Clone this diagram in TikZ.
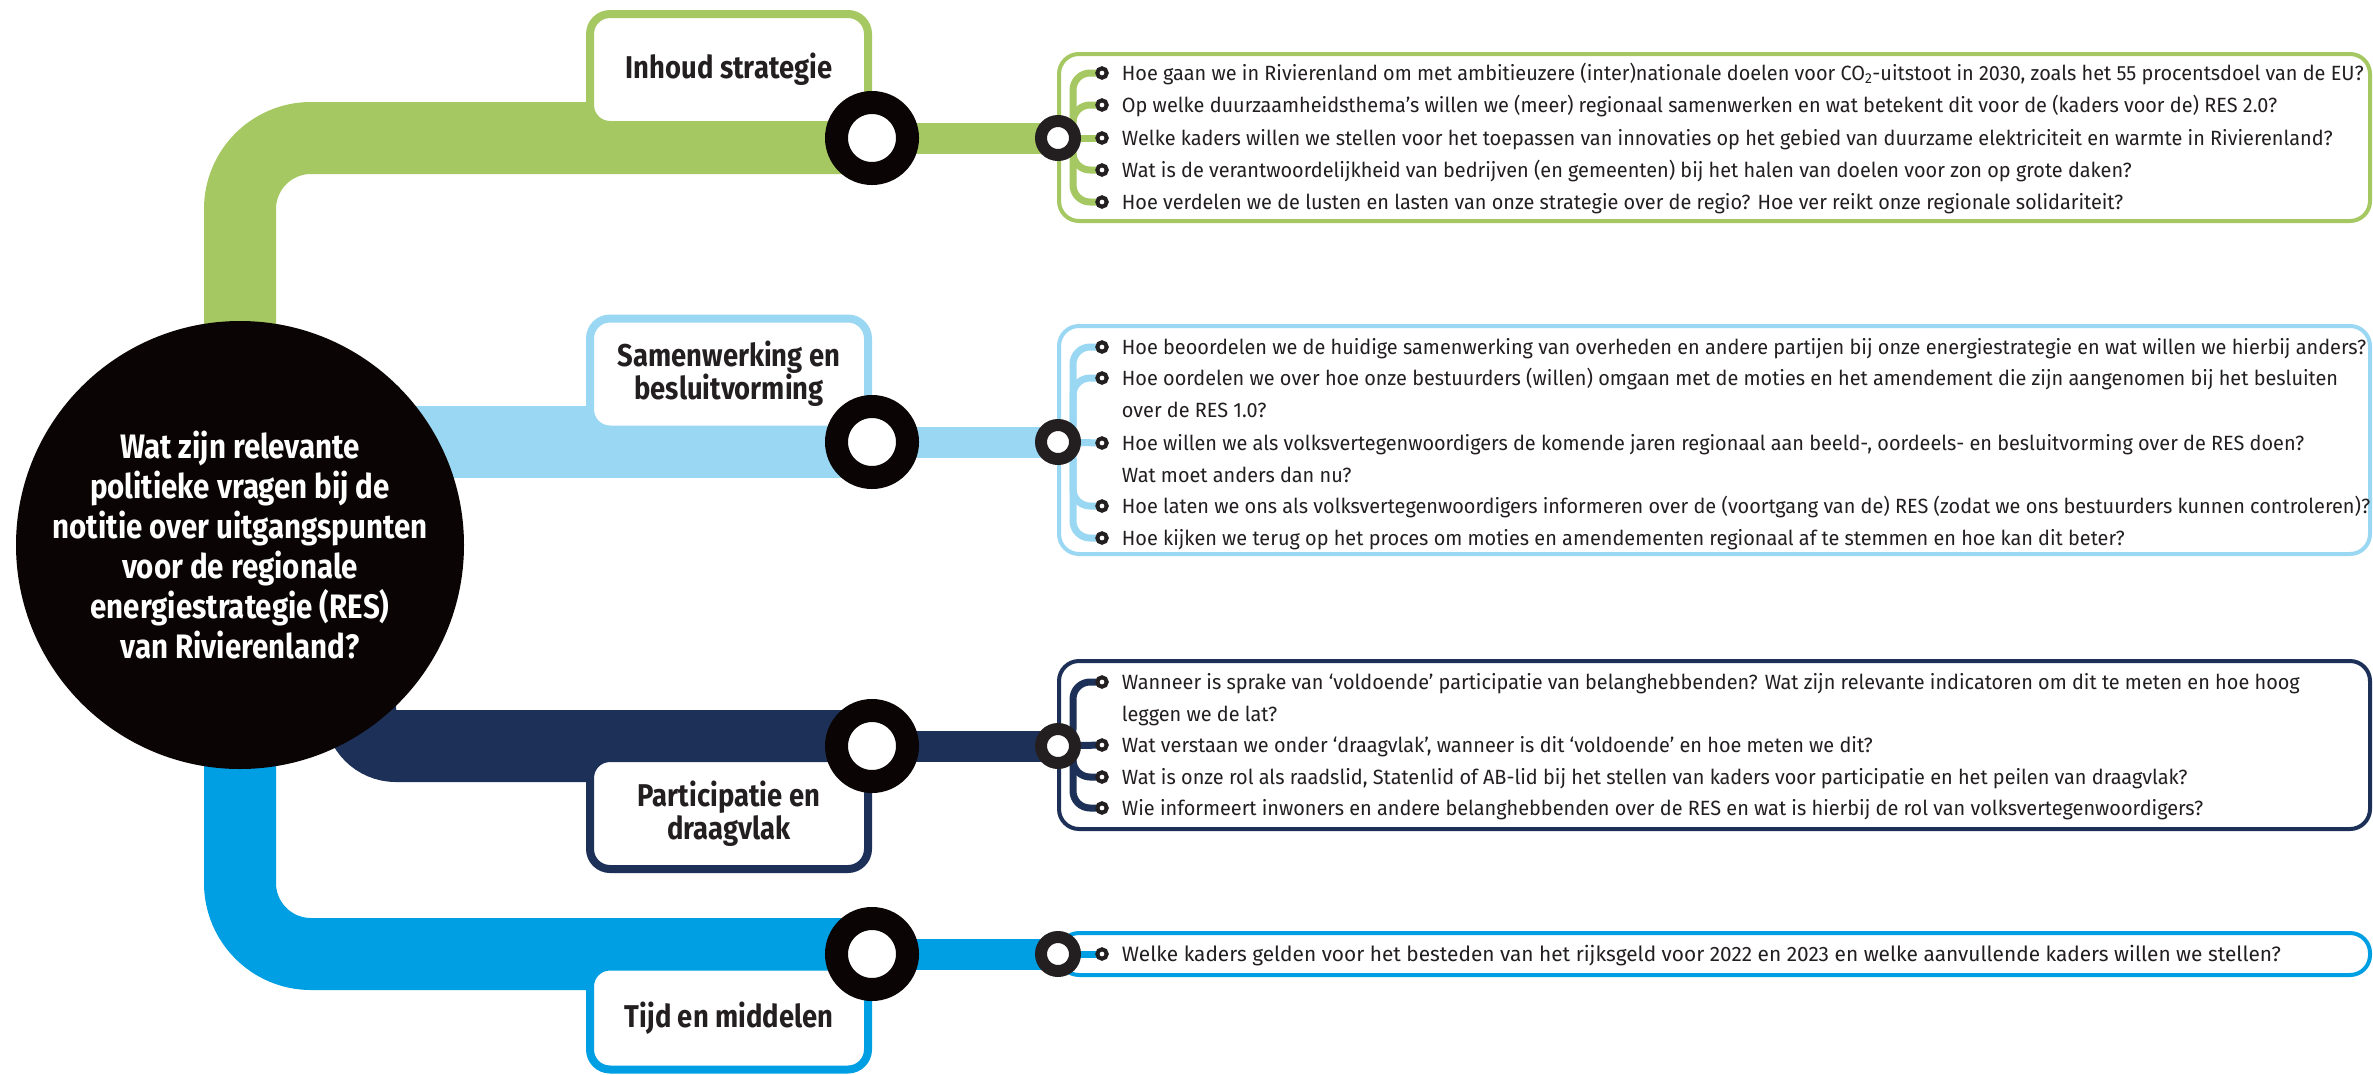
\documentclass[tikz,border=0pt]{standalone}
\usepackage{fontspec}
\setmainfont{Fira Sans}
\newfontfamily\askfont[FakeStretch=0.965]{Fira Sans}
\newfontfamily\headfont[FakeStretch=0.87]{Fira Sans}
\usetikzlibrary{positioning}
\definecolor{resgreen}{HTML}{A5C862}
\definecolor{reslight}{HTML}{9AD7F3}
\definecolor{resnavy}{HTML}{1D3158}
\definecolor{resblue}{HTML}{009FE3}
\definecolor{resink}{HTML}{231F20}
\definecolor{reshub}{HTML}{0A0404}
\pgfdeclarelayer{back}
\pgfdeclarelayer{mid}
\pgfsetlayers{back,mid,main}

\begin{document}
\begin{tikzpicture}[x=1pt, y=-1pt,
    hub/.style={circle, fill=reshub, minimum size=448pt, inner sep=0pt, text=white, align=center, font=\headfont\bfseries\fontsize{33.9}{40}\selectfont},
    tagbox/.style={draw=#1, fill=white, line width=8pt, rounded corners=20pt, minimum width=278pt, minimum height=111pt, align=center, text=resink, font=\headfont\bfseries\fontsize{31.5}{33}\selectfont},
    panel/.style={draw=#1, fill=white, line width=4pt, rounded corners=20pt, minimum width=1311pt},
    bigring/.style={circle, draw=reshub, fill=white, line width=23pt, minimum size=71pt, inner sep=0pt},
    hopring/.style={circle, draw=resink, fill=white, line width=12pt, minimum size=34pt, inner sep=0pt},
    dot/.style={circle, draw=resink, fill=white, line width=4pt, minimum size=9.4pt, inner sep=0pt},
    ask/.style={inner sep=0pt, align=left, text=resink, font=\askfont\fontsize{20.6}{32}\selectfont},
    trunk/.style={line width=72pt, rounded corners=71pt},
    spur/.style={line width=31pt},
    twig/.style={line width=7pt, rounded corners=17pt}]
    \useasboundingbox (0,0) rectangle (2373,1074);

    \begin{pgfonlayer}{mid}
        \node[hub] (hub) at (240,545) {Wat zijn relevante\\politieke vragen bij de\\notitie over uitgangspunten\\voor de regionale\\energiestrategie (RES)\\van Rivierenland?};
        \node[tagbox=resgreen] (tag1) at (729,69.5) {Inhoud strategie};
        \node[tagbox=reslight] (tag2) at (729,374) {Samenwerking en\\besluitvorming};
        \node[tagbox=resnavy] (tag3) at (729,813.5) {Participatie en\\draagvlak};
        \node[tagbox=resblue, minimum height=103pt] (tag4) at (729,1018) {Tijd en middelen};
        \node[panel=resgreen, minimum height=167pt] (pan1) at (1714.5,137.5) {};
        \node[panel=reslight, minimum height=228pt] (pan2) at (1714.5,440) {};
        \node[panel=resnavy, minimum height=168pt] (pan3) at (1714.5,745) {};
        \node[panel=resblue, minimum height=42pt] (pan4) at (1714.5,954) {};
    \end{pgfonlayer}

    % stations
    \node[bigring] (ring1) at (872,138) {};
    \node[bigring] (ring2) at (872,442) {};
    \node[bigring] (ring3) at (872,746) {};
    \node[bigring] (ring4) at (872,954) {};
    \node[hopring] (hop1) at (1058,138) {};
    \node[hopring] (hop2) at (1058,442) {};
    \node[hopring] (hop3) at (1058,746) {};
    \node[hopring] (hop4) at (1058,954) {};

    % questions: inhoud strategie
    \node[dot] (b11) at (1102,73) {};
    \node[dot] (b12) at (1102,105) {};
    \node[dot] (b13) at (1102,138) {};
    \node[dot] (b14) at (1102,170) {};
    \node[dot] (b15) at (1102,202) {};
    \node[ask, right=13pt of b11, anchor=base west, yshift=-7pt] (q11) {Hoe gaan we in Rivierenland om met ambitieuzere (inter)nationale doelen voor CO\textsubscript{2}-uitstoot in 2030, zoals het 55 procentsdoel van de EU?};
    \node[ask, right=13pt of b12, anchor=base west, yshift=-7pt] (q12) {Op welke duurzaamheidsthema’s willen we (meer) regionaal samenwerken en wat betekent dit voor de (kaders voor de) RES 2.0?};
    \node[ask, right=13pt of b13, anchor=base west, yshift=-7pt] (q13) {Welke kaders willen we stellen voor het toepassen van innovaties op het gebied van duurzame elektriciteit en warmte in Rivierenland?};
    \node[ask, right=13pt of b14, anchor=base west, yshift=-7pt] (q14) {Wat is de verantwoordelijkheid van bedrijven (en gemeenten) bij het halen van doelen voor zon op grote daken?};
    \node[ask, right=13pt of b15, anchor=base west, yshift=-7pt] (q15) {Hoe verdelen we de lusten en lasten van onze strategie over de regio? Hoe ver reikt onze regionale solidariteit?};

    % questions: samenwerking (two-line nodes sit on their last baseline)
    \node[dot] (b21) at (1102,347) {};
    \node[dot] (b22) at (1102,378) {};
    \node[dot] (b23) at (1102,443) {};
    \node[dot] (b24) at (1102,506) {};
    \node[dot] (b25) at (1102,538) {};
    \node[ask, right=13pt of b21, anchor=base west, yshift=-7pt] (q21) {Hoe beoordelen we de huidige samenwerking van overheden en andere partijen bij onze energiestrategie en wat willen we hierbij anders?};
    \node[ask, right=13pt of b22, anchor=base west, yshift=-39pt] (q22) {Hoe oordelen we over hoe onze bestuurders (willen) omgaan met de moties en het amendement die zijn aangenomen bij het besluiten\\over de RES 1.0?};
    \node[ask, right=13pt of b23, anchor=base west, yshift=-39pt] (q23) {Hoe willen we als volksvertegenwoordigers de komende jaren regionaal aan beeld-, oordeels- en besluitvorming over de RES doen?\\Wat moet anders dan nu?};
    \node[ask, right=13pt of b24, anchor=base west, yshift=-7pt] (q24) {Hoe laten we ons als volksvertegenwoordigers informeren over de (voortgang van de) RES (zodat we ons bestuurders kunnen controleren)?};
    \node[ask, right=13pt of b25, anchor=base west, yshift=-7pt] (q25) {Hoe kijken we terug op het proces om moties en amendementen regionaal af te stemmen en hoe kan dit beter?};

    % questions: participatie
    \node[dot] (b31) at (1102,682) {};
    \node[dot] (b32) at (1102,745) {};
    \node[dot] (b33) at (1102,777) {};
    \node[dot] (b34) at (1102,808) {};
    \node[ask, right=13pt of b31, anchor=base west, yshift=-39pt] (q31) {Wanneer is sprake van ‘voldoende’ participatie van belanghebbenden? Wat zijn relevante indicatoren om dit te meten en hoe hoog\\leggen we de lat?};
    \node[ask, right=13pt of b32, anchor=base west, yshift=-7pt] (q32) {Wat verstaan we onder ‘draagvlak’, wanneer is dit ‘voldoende’ en hoe meten we dit?};
    \node[ask, right=13pt of b33, anchor=base west, yshift=-7pt] (q33) {Wat is onze rol als raadslid, Statenlid of AB-lid bij het stellen van kaders voor participatie en het peilen van draagvlak?};
    \node[ask, right=13pt of b34, anchor=base west, yshift=-7pt] (q34) {Wie informeert inwoners en andere belanghebbenden over de RES en wat is hierbij de rol van volksvertegenwoordigers?};

    % questions: tijd en middelen
    \node[dot] (b41) at (1102,954) {};
    \node[ask, right=13pt of b41, anchor=base west, yshift=-7.2pt, font=\fontsize{20.85}{32}\selectfont] (q41) {Welke kaders gelden voor het besteden van het rijksgeld voor 2022 en 2023 en welke aanvullende kaders willen we stellen?};

    % lines
    \begin{pgfonlayer}{back}
        \draw[trunk, resgreen] (hub.center) |- (ring1.center);
        \draw[trunk, reslight] (hub.center |- ring2.center) -- (ring2.center);
        \draw[trunk, resnavy, rounded corners=36pt] (360,600) -- (360,746) -- (ring3.center);
        \draw[trunk, resblue] (hub.center) |- (ring4.center);
        \draw[spur, resgreen] (ring1.center) -- (hop1.center);
        \draw[spur, reslight] (ring2.center) -- (hop2.center);
        \draw[spur, resnavy] (ring3.center) -- (hop3.center);
        \draw[spur, resblue] (ring4.center) -- (hop4.center);
    \end{pgfonlayer}
    \begin{pgfonlayer}{mid}
        \draw[twig, resgreen] (hop1.center) -- ++(15,0) |- (b11.center);
        \draw[twig, resgreen] (hop1.center) -- ++(15,0) |- (b12.center);
        \draw[twig, resgreen] (hop1.center) -- (b13.center);
        \draw[twig, resgreen] (hop1.center) -- ++(15,0) |- (b14.center);
        \draw[twig, resgreen] (hop1.center) -- ++(15,0) |- (b15.center);
        \draw[twig, reslight] (hop2.center) -- ++(15,0) |- (b21.center);
        \draw[twig, reslight] (hop2.center) -- ++(15,0) |- (b22.center);
        \draw[twig, reslight] (hop2.center) -- (b23.center);
        \draw[twig, reslight] (hop2.center) -- ++(15,0) |- (b24.center);
        \draw[twig, reslight] (hop2.center) -- ++(15,0) |- (b25.center);
        \draw[twig, resnavy] (hop3.center) -- ++(15,0) |- (b31.center);
        \draw[twig, resnavy] (hop3.center) -- (b32.center);
        \draw[twig, resnavy] (hop3.center) -- ++(15,0) |- (b33.center);
        \draw[twig, resnavy] (hop3.center) -- ++(15,0) |- (b34.center);
        \draw[twig, resblue] (hop4.center) -- (b41.center);
    \end{pgfonlayer}
\end{tikzpicture}
\end{document}
